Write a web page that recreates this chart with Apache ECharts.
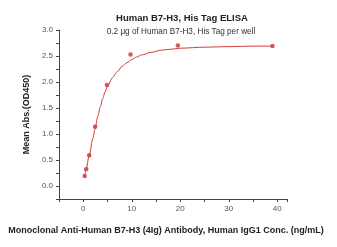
<!DOCTYPE html>
<html><head><meta charset="utf-8">
<script src="https://cdn.jsdelivr.net/npm/echarts@6/dist/echarts.min.js"></script>
<style>html,body{margin:0;padding:0;background:#fff}#c{width:337px;height:247px}</style>
</head><body><div id="c"></div>
<script>
// measured points
const conc = [0.30, 0.61, 1.22, 2.44, 4.88, 9.75, 19.5, 39];
const od = [0.19, 0.32, 0.59, 1.14, 1.94, 2.53, 2.70, 2.69];
// fitted curve
const curveX = [0.3, 0.6, 1.2, 2, 2.4, 3, 3.5, 4, 4.5, 5, 6, 7, 8, 9, 10, 11, 12, 14, 16, 18, 20, 25, 30, 35, 39];
const curveY = [0.20, 0.32, 0.58, 0.92, 1.09, 1.34, 1.52, 1.68, 1.81, 1.92, 2.08, 2.20, 2.30, 2.37, 2.43, 2.48, 2.52, 2.57, 2.61, 2.63, 2.65, 2.67, 2.68, 2.69, 2.69];
const xTicks = [0, 10, 20, 30, 40];
const yTicks = [0.0, 0.5, 1.0, 1.5, 2.0, 2.5, 3.0];

const FONT = 'Liberation Sans';
const chart = echarts.init(document.getElementById('c'));
chart.setOption({
  animation: false,
  title: [
    {text: 'Human B7-H3, His Tag ELISA', left: 177, top: 8, textAlign: 'center',
     textStyle: {fontFamily: FONT, fontSize: 9.5, fontWeight: 'bold', color: '#222'}},
    {text: '0.2 μg of Human B7-H3, His Tag per well', left: 176, top: 23, textAlign: 'center',
     textStyle: {fontFamily: FONT, fontSize: 8.2, fontWeight: 'normal', color: '#333'}}
  ],
  grid: {left: 59, right: 50, top: 30, bottom: 48},
  xAxis: {
    type: 'value', min: -5, max: 42, interval: 5,
    name: 'Monoclonal Anti-Human B7-H3 (4Ig) Antibody, Human IgG1 Conc. (ng/mL)',
    nameLocation: 'middle', nameGap: 27,
    nameTextStyle: {fontFamily: FONT, fontSize: 9, fontWeight: 'bold', color: '#222', padding: [0, 0, 0, -14]},
    axisLine: {show: true, onZero: false, lineStyle: {color: '#444', width: 1}},
    axisTick: {show: true, length: 3, lineStyle: {color: '#444'}},
    axisLabel: {fontFamily: FONT, fontSize: 8, color: '#555', margin: 6,
      formatter: v => xTicks.includes(v) ? String(v) : ''},
    splitLine: {show: false}
  },
  yAxis: {
    type: 'value', min: -0.25, max: 3.0, interval: 0.25,
    name: 'Mean Abs.(OD450)', nameLocation: 'middle', nameGap: 28,
    nameTextStyle: {fontFamily: FONT, fontSize: 9, fontWeight: 'bold', color: '#222'},
    axisLine: {show: true, onZero: false, lineStyle: {color: '#444', width: 1}},
    axisTick: {show: true, length: 3, lineStyle: {color: '#444'}},
    axisLabel: {fontFamily: FONT, fontSize: 8, color: '#555', margin: 6,
      formatter: v => yTicks.some(t => Math.abs(t - v) < 1e-6) ? v.toFixed(1) : ''},
    splitLine: {show: false}
  },
  series: [
    {type: 'line', data: curveX.map((x, i) => [x, curveY[i]]), smooth: 0.3, smoothMonotone: 'x', showSymbol: false,
     lineStyle: {color: '#d43a3a', width: 1}},
    {type: 'scatter', data: conc.map((x, i) => [x, od[i]]), symbol: 'circle', symbolSize: 4.5,
     itemStyle: {color: '#c92f2f'}}
  ]
});
</script></body></html>
